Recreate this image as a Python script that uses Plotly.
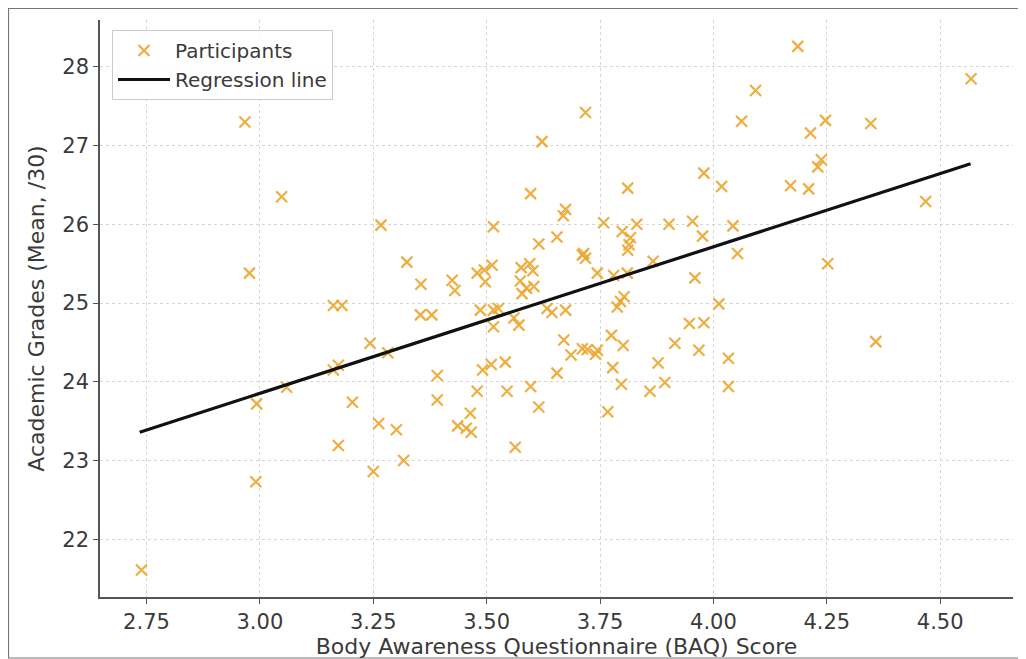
import plotly.graph_objects as go

# Participants: BAQ score (x) and mean academic grade (y)
baq = [2.739, 2.967, 2.977, 2.993, 2.991, 3.048, 3.059, 3.162, 3.181, 3.162,
       3.173, 3.173, 3.204, 3.243, 3.250, 3.262, 3.267, 3.282, 3.301, 3.317,
       3.324, 3.355, 3.354, 3.379, 3.391, 3.391, 3.424, 3.430, 3.436, 3.455,
       3.466, 3.464, 3.479, 3.479, 3.486, 3.491, 3.495, 3.497, 3.510, 3.512,
       3.515, 3.515, 3.515, 3.526, 3.541, 3.545, 3.560, 3.563, 3.571, 3.576,
       3.595, 3.602, 3.574, 3.588, 3.604, 3.578, 3.597, 3.597, 3.615, 3.615,
       3.622, 3.633, 3.644, 3.655, 3.655, 3.669, 3.674, 3.670, 3.674, 3.686,
       3.711, 3.718, 3.714, 3.718, 3.711, 3.722, 3.744, 3.740, 3.744, 3.758,
       3.767, 3.775, 3.778, 3.780, 3.788, 3.795, 3.803, 3.797, 3.799, 3.801,
       3.810, 3.811, 3.811, 3.814, 3.817, 3.831, 3.860, 3.867, 3.878, 3.893,
       3.902, 3.915, 3.947, 3.954, 3.959, 3.968, 3.976, 3.979, 3.979, 4.012,
       4.018, 4.033, 4.033, 4.043, 4.053, 4.062, 4.093, 4.170, 4.186, 4.210,
       4.214, 4.230, 4.238, 4.247, 4.252, 4.347, 4.358, 4.468, 4.568]
grades = [21.61, 27.30, 25.38, 23.72, 22.73, 26.35, 23.93, 24.97, 24.97, 24.15,
          24.21, 23.19, 23.74, 24.49, 22.86, 23.47, 25.99, 24.37, 23.39, 23.00,
          25.52, 25.24, 24.85, 24.85, 24.08, 23.77, 25.29, 25.16, 23.44, 23.41,
          23.36, 23.60, 25.38, 23.88, 24.91, 24.15, 25.42, 25.27, 24.22, 25.48,
          25.97, 24.91, 24.70, 24.93, 24.25, 23.88, 24.81, 23.17, 24.72, 25.45,
          25.50, 25.41, 25.28, 25.19, 25.21, 25.12, 23.94, 26.39, 25.75, 23.68,
          27.05, 24.93, 24.88, 25.84, 24.11, 26.11, 26.19, 24.53, 24.91, 24.34,
          25.61, 25.57, 25.63, 27.42, 24.42, 24.41, 24.40, 24.35, 25.38, 26.02,
          23.62, 24.59, 24.18, 25.35, 24.95, 25.02, 25.08, 23.97, 25.91, 24.46,
          25.38, 26.46, 25.67, 25.74, 25.83, 26.00, 23.88, 25.53, 24.24, 23.99,
          26.00, 24.49, 24.74, 26.04, 25.32, 24.40, 25.85, 24.75, 26.65, 24.99,
          26.48, 24.30, 23.94, 25.98, 25.63, 27.31, 27.70, 26.49, 28.26, 26.45,
          27.16, 26.73, 26.82, 27.32, 25.50, 27.28, 24.51, 26.29, 27.85]

# Regression line end points
reg_x = [2.735, 4.567]
reg_y = [23.36, 26.77]

x_ticks = [2.75, 3.00, 3.25, 3.50, 3.75, 4.00, 4.25, 4.50]
y_ticks = [22, 23, 24, 25, 26, 27, 28]

FONT = "DejaVu Sans"
TXT = "#3a3a3a"
ORANGE = "rgba(234,168,50,0.92)"

fig = go.Figure()
fig.add_trace(go.Scatter(
    x=baq, y=grades, mode="markers", name="Participants",
    marker=dict(symbol="x-thin", size=11,
                line=dict(width=2.2, color=ORANGE), color=ORANGE),
))
fig.add_trace(go.Scatter(
    x=reg_x, y=reg_y, mode="lines", name="Regression line",
    line=dict(color="#111111", width=3.2),
))

# the page places the figure 8px in from the top-left corner
OFF = 8
W, H = 1026 - OFF, 659 - OFF
L = 100 - OFF
T = 20 - OFF
R = W - (1013 - OFF)
B = H - (597 - OFF)
pw, ph = W - L - R, H - T - B

def px_x(page_x):
    return (page_x - OFF - L) / pw

def px_y(page_y):
    return (H - B - (page_y - OFF)) / ph

fig.add_shape(type="rect", xref="paper", yref="paper",
              x0=px_x(8.5), x1=px_x(1019), y0=px_y(658), y1=px_y(8.5),
              line=dict(color="#777777", width=1.2), fillcolor="rgba(0,0,0,0)",
              layer="below")

axis_common = dict(
    showline=True, linecolor="#555555", linewidth=1.5,
    ticks="outside", ticklen=5, tickwidth=1.3, tickcolor="#555555",
    showgrid=True, gridcolor="#d6d6d6", gridwidth=1, griddash="dot",
    zeroline=False, mirror=False,
    tickfont=dict(family=FONT, size=21, color=TXT),
)

fig.update_xaxes(
    range=[2.6475, 4.6605], tickvals=x_ticks,
    ticktext=[f"{v:.2f}" for v in x_ticks],
    title=dict(text="Body Awareness Questionnaire (BAQ) Score",
               font=dict(family=FONT, size=22, color=TXT), standoff=6),
    **axis_common,
)
fig.update_yaxes(
    range=[21.267, 28.595], tickvals=y_ticks,
    ticktext=[str(v) for v in y_ticks],
    title=dict(text="Academic Grades (Mean, /30)",
               font=dict(family=FONT, size=22, color=TXT), standoff=12),
    **axis_common,
)

fig.update_layout(
    width=W, height=H,
    margin=dict(l=L, r=R, t=T, b=B, autoexpand=False),
    paper_bgcolor="white", plot_bgcolor="white",
    font=dict(family=FONT, color=TXT),
    legend=dict(
        x=px_x(112), y=px_y(30), xanchor="left", yanchor="top",
        bgcolor="rgba(255,255,255,0.85)", bordercolor="#cccccc", borderwidth=1,
        font=dict(family=FONT, size=20, color=TXT),
        itemwidth=52, tracegroupgap=0,
    ),
    showlegend=True,
)

fig.write_html("out.html")
